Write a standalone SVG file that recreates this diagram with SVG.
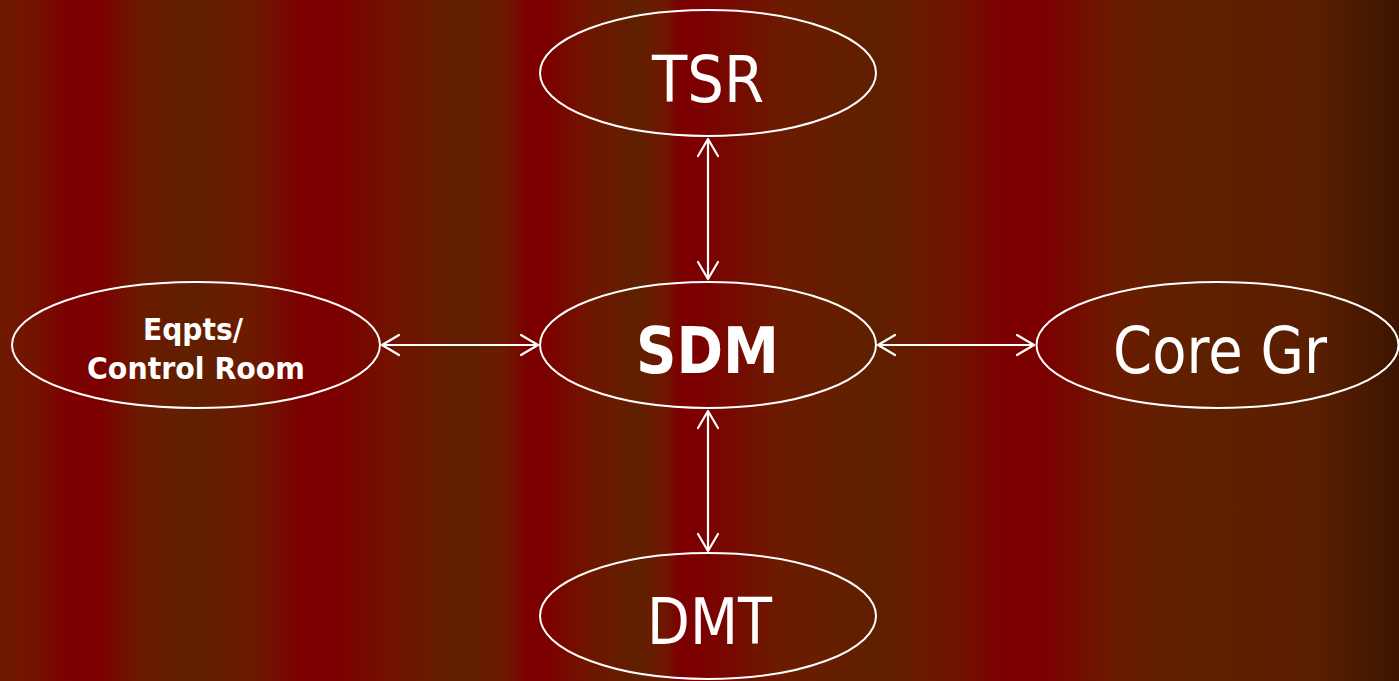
<svg xmlns="http://www.w3.org/2000/svg" width="1399" height="681" viewBox="0 0 1399 681">
<defs>
<linearGradient id="bg" x1="0" y1="0" x2="1399" y2="0" gradientUnits="userSpaceOnUse">
<stop offset="0" stop-color="#6E1A00"/>
<stop offset="0.025" stop-color="#751200"/>
<stop offset="0.05" stop-color="#7C0000"/>
<stop offset="0.0715" stop-color="#7C0000"/>
<stop offset="0.1" stop-color="#6B1A00"/>
<stop offset="0.136" stop-color="#5F2000"/>
<stop offset="0.18" stop-color="#6C1A00"/>
<stop offset="0.216" stop-color="#7C0000"/>
<stop offset="0.241" stop-color="#7C0000"/>
<stop offset="0.286" stop-color="#701500"/>
<stop offset="0.332" stop-color="#5F2000"/>
<stop offset="0.36" stop-color="#6C1A00"/>
<stop offset="0.377" stop-color="#7C0000"/>
<stop offset="0.39" stop-color="#7C0000"/>
<stop offset="0.42" stop-color="#701500"/>
<stop offset="0.455" stop-color="#5F2000"/>
<stop offset="0.475" stop-color="#6E1800"/>
<stop offset="0.485" stop-color="#7C0000"/>
<stop offset="0.502" stop-color="#7C0000"/>
<stop offset="0.56" stop-color="#6B1C00"/>
<stop offset="0.625" stop-color="#5F2000"/>
<stop offset="0.68" stop-color="#701500"/>
<stop offset="0.716" stop-color="#7C0000"/>
<stop offset="0.747" stop-color="#7C0000"/>
<stop offset="0.8" stop-color="#6A1C00"/>
<stop offset="0.845" stop-color="#5F2000"/>
<stop offset="0.94" stop-color="#5A1E00"/>
<stop offset="1" stop-color="#3D1500"/>
</linearGradient>
<marker id="arr" markerUnits="userSpaceOnUse" markerWidth="40" markerHeight="40" refX="0" refY="0" viewBox="-20 -20 40 40" orient="auto-start-reverse" overflow="visible">
<path d="M-17,-10 L0,0 L-17,10" fill="none" stroke="#FFFFFF" stroke-width="2.2" stroke-linecap="round" stroke-linejoin="round"/>
</marker>
</defs>
<style>
.node ellipse { fill: none; stroke: #FFFFFF; stroke-width: 2; }
.lbl { fill: #FFFFFF; font-family: "DejaVu Sans", "Liberation Sans", sans-serif; text-anchor: middle; }
.big { font-size: 64px; }
.bold { font-weight: bold; }
.small { font-size: 30px; font-weight: bold; }
.conn line { stroke: #FFFFFF; stroke-width: 2.2; marker-start: url(#arr); marker-end: url(#arr); }
</style>
<rect x="0" y="0" width="1399" height="681" fill="url(#bg)"/>
<g id="connectors" class="conn">
<line x1="708" y1="139" x2="708" y2="279"/>
<line x1="708" y1="411" x2="708" y2="551"/>
<line x1="382" y1="345" x2="538" y2="345"/>
<line x1="878" y1="345" x2="1034" y2="345"/>
</g>
<g id="tsr" class="node">
<ellipse cx="708" cy="73" rx="168" ry="63"/>
<text class="lbl big" x="708" y="102" textLength="112" lengthAdjust="spacingAndGlyphs">TSR</text>
</g>
<g id="sdm" class="node">
<ellipse cx="708" cy="345" rx="168" ry="63"/>
<text class="lbl big bold" x="707.5" y="373" textLength="143" lengthAdjust="spacingAndGlyphs">SDM</text>
</g>
<g id="eqpts" class="node">
<ellipse cx="196" cy="345" rx="184" ry="63"/>
<text class="lbl small" x="193" y="340" textLength="100" lengthAdjust="spacingAndGlyphs">Eqpts/</text>
<text class="lbl small" x="196" y="379" textLength="218" lengthAdjust="spacingAndGlyphs">Control Room</text>
</g>
<g id="coregr" class="node">
<ellipse cx="1217.5" cy="345" rx="181" ry="63"/>
<text class="lbl big" x="1220" y="373" textLength="214" lengthAdjust="spacingAndGlyphs">Core Gr</text>
</g>
<g id="dmt" class="node">
<ellipse cx="708" cy="616" rx="168" ry="63"/>
<text class="lbl big" x="709.5" y="644" textLength="125" lengthAdjust="spacingAndGlyphs">DMT</text>
</g>
</svg>
